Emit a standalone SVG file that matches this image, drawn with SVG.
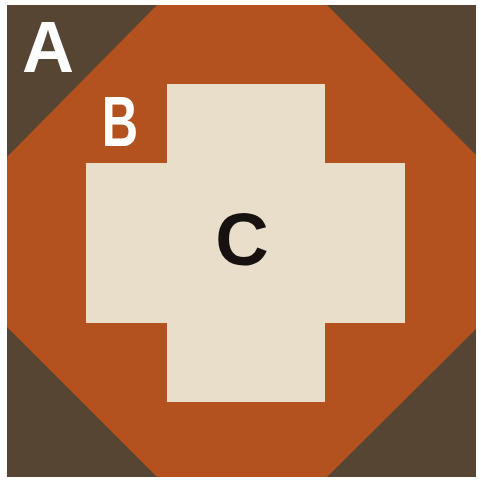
<svg xmlns="http://www.w3.org/2000/svg" width="481" height="482" viewBox="0 0 481 482">
  <style>
    .lbl { font-family: "Liberation Sans", Arial, sans-serif; font-weight: bold; text-anchor: middle; }
  </style>
  <rect x="0" y="0" width="481" height="482" fill="#ffffff"/>
  <g id="A">
    <rect x="7" y="5" width="469" height="472" fill="#574533"/>
    <text class="lbl" x="48" y="72" font-size="72" fill="#ffffff">A</text>
  </g>
  <g id="B">
    <polygon points="157,5 327,5 476,155 476,329 327,477 157,477 7,327 7,157" fill="#b3521f"/>
    <text class="lbl" x="120" y="146" font-size="70" fill="#ffffff" transform="translate(120 0) scale(0.72 1) translate(-120 0)">B</text>
  </g>
  <g id="C">
    <polygon points="167,84 325,84 325,163 405,163 405,323 325,323 325,402 167,402 167,323 86,323 86,163 167,163" fill="#e9dec9"/>
    <text class="lbl" x="242" y="265" font-size="74" fill="#17120f">C</text>
  </g>
</svg>
